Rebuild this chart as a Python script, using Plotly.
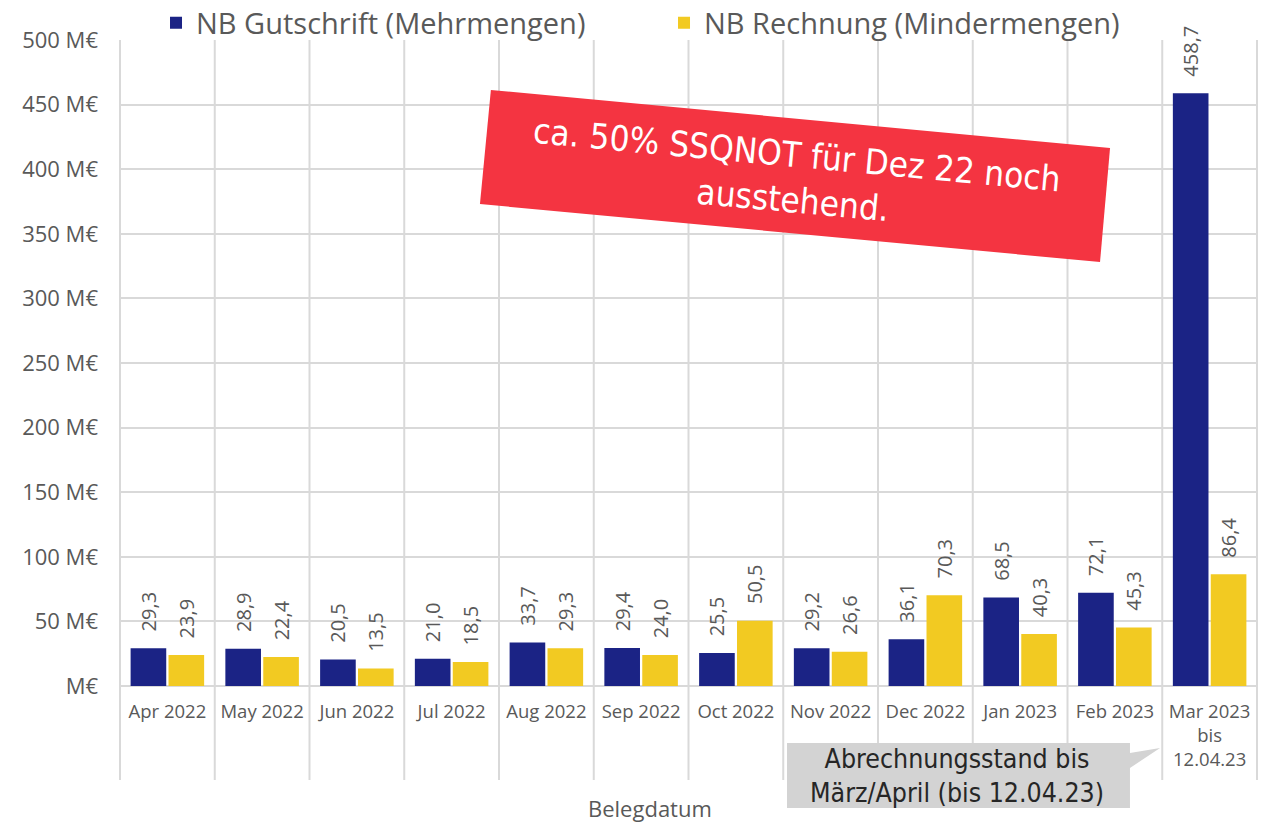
import plotly.graph_objects as go

categories = ["Apr 2022", "May 2022", "Jun 2022", "Jul 2022", "Aug 2022", "Sep 2022",
              "Oct 2022", "Nov 2022", "Dec 2022", "Jan 2023", "Feb 2023",
              "Mar 2023<br>bis<br>12.04.23"]
gutschrift = [29.3, 28.9, 20.5, 21.0, 33.7, 29.4, 25.5, 29.2, 36.1, 68.5, 72.1, 458.7]
rechnung = [23.9, 22.4, 13.5, 18.5, 29.3, 24.0, 50.5, 26.6, 70.3, 40.3, 45.3, 86.4]
ytick_vals = [0, 50, 100, 150, 200, 250, 300, 350, 400, 450, 500]
ytick_text = ["M€"] + [f"{v} M€" for v in ytick_vals[1:]]

BLUE = "#1B2385"
YELLOW = "#F2CA22"
GRID = "#d9d9d9"
TXT = "#595959"
NARROW = "Liberation Sans Narrow, DejaVu Sans Condensed, Roboto, sans-serif"


def de(v):
    # leading non-breaking spaces give the gap Excel leaves above the bar
    return "\u00a0\u00a0\u2009" + f"{v:.1f}".replace(".", ",")


fig = go.Figure()
for name, vals, col in [("NB Gutschrift (Mehrmengen)", gutschrift, BLUE),
                        ("NB Rechnung (Mindermengen)", rechnung, YELLOW)]:
    fig.add_trace(go.Bar(
        name=name, x=categories, y=vals,
        marker=dict(color=col, line=dict(width=0)),
        text=[de(v) for v in vals], textposition="outside", textangle=-90,
        textfont=dict(family="Open Sans", size=20, color=TXT),
        constraintext="none", cliponaxis=False,
    ))

shapes = []
# vertical category separators extending below the axis (Excel multi-level style)
for i in range(len(categories) + 1):
    shapes.append(dict(type="line", xref="x", yref="paper", x0=i - 0.5, x1=i - 0.5,
                       y0=-0.1455, y1=1, line=dict(color=GRID, width=2), layer="below"))
# red rotated banner
shapes.append(dict(type="path", xref="paper", yref="paper",
                   path="M 0.3265 0.9226 L 0.8701 0.8328 L 0.8613 0.6563 L 0.3169 0.7461 Z",
                   fillcolor="#F43441", line=dict(width=0), layer="above"))
# grey callout
shapes.append(dict(type="path", xref="paper", yref="paper",
                   path=("M 0.5865 -0.0882 L 0.8876 -0.0882 L 0.8876 -0.1037 L 0.9140 -0.0960 "
                         "L 0.8876 -0.1269 L 0.8876 -0.1889 L 0.5865 -0.1889 Z"),
                   fillcolor="#d3d3d3", line=dict(width=0), layer="above"))

annotations = [
    dict(xref="paper", yref="paper", x=0.5935, y=0.786, xanchor="center", yanchor="middle",
         text="ca. 50% SSQNOT für Dez 22 noch<br>ausstehend.", showarrow=False, textangle=5.3,
         font=dict(family=NARROW, size=35, color="white")),
    dict(xref="paper", yref="paper", x=0.7357, y=-0.1378, xanchor="center", yanchor="middle",
         text="Abrechnungsstand bis<br>März/April (bis 12.04.23)", showarrow=False,
         font=dict(family=NARROW, size=26.5, color="#262626")),
    # axis title (Excel places it left of the plot centre)
    dict(xref="paper", yref="paper", x=0.466, y=-0.1889, xanchor="center", yanchor="middle",
         text="Belegdatum", showarrow=False, font=dict(family="Open Sans", size=22, color=TXT)),
]

fig.update_layout(
    width=1269, height=822,
    margin=dict(l=119, r=11, t=40, b=136, autoexpand=False),
    paper_bgcolor="white", plot_bgcolor="white",
    barmode="group", bargap=0.2, bargroupgap=0.06,
    font=dict(family="Open Sans", color=TXT),
    legend=dict(orientation="h", x=0.4785, xanchor="center", y=1.0263, yanchor="middle",
                font=dict(family="Open Sans", size=29, color=TXT),
                bgcolor="rgba(0,0,0,0)", entrywidth=463, borderwidth=0),
    shapes=shapes, annotations=annotations,
    xaxis=dict(showgrid=False, showline=False, ticks="", tickfont=dict(size=18.5, color=TXT),
               ticklabelstandoff=12, automargin=False),
    yaxis=dict(range=[0, 500], tickvals=ytick_vals, ticktext=ytick_text,
               showgrid=True, gridcolor=GRID, gridwidth=2, zeroline=True, zerolinecolor=GRID,
               zerolinewidth=2, tickfont=dict(size=22, color=TXT), ticklabelstandoff=20,
               automargin=False),
)

fig.write_html("out.html", config={"displayModeBar": False},
               post_script="document.body.style.margin='0px';")
